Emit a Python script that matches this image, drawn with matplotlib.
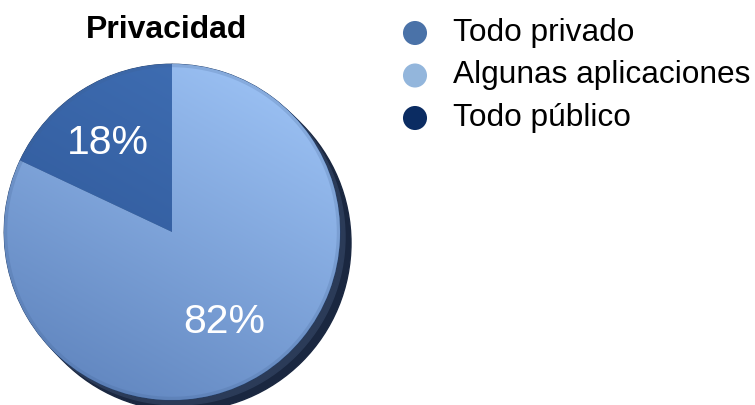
import numpy as np
import matplotlib
matplotlib.use("Agg")
import matplotlib.pyplot as plt
from matplotlib.patches import Circle

plt.rcParams['font.family'] = ['Liberation Sans', 'DejaVu Sans']

title = "Privacidad"
categories = ["Todo privado", "Algunas aplicaciones", "Todo público"]
values = [18, 82, 0]
legend_colors = ["#4a72a8", "#93b6dc", "#0b2c62"]

# gradient ends for the two visible slices (top-right, bottom-left)
grad = {0: ("#4272b8", "#2a5190"), 1: ("#a2c8fa", "#5a7fb9")}

W, H = 755, 405
fig = plt.figure(figsize=(W / 100, H / 100), dpi=100)
ax = fig.add_axes([0, 0, 1, 1])

cx, cy, r = 172, H - 232, 168

# shadow behind the pie, falling to the lower right
ax.add_patch(Circle((cx + 11, cy - 11), r, color="#1a2740", zorder=1))
ax.add_patch(Circle((cx + 5, cy - 5), r, color="#2b3b58", zorder=1.5))

wedges, _ = ax.pie(values, colors=legend_colors, startangle=90, counterclock=True,
                   center=(cx, cy), radius=r, frame=True,
                   wedgeprops=dict(linewidth=0.6, edgecolor="#22406e"))

# diagonal gradient, lighter to the upper right
n = 240
u = np.linspace(0, 1, n)
xx, yy = np.meshgrid(u, u)
t = np.clip((xx * 0.45 + yy * 0.8) / 1.25, 0, 1)[..., None]
for i, wd in enumerate(wedges):
    wd.set_zorder(2)
    if i in grad:
        c0 = np.array(matplotlib.colors.to_rgb(grad[i][0]))
        c1 = np.array(matplotlib.colors.to_rgb(grad[i][1]))
        img = c0 * (1 - t) + c1 * t
        img = img[:, ::-1]
        im = ax.imshow(img, extent=(cx - r, cx + r, cy - r, cy + r), origin="upper",
                       aspect="auto", zorder=3, interpolation="bilinear")
        im.set_clip_path(wd)

# soft rim
ax.add_patch(Circle((cx, cy), r - 1.5, fill=False, lw=2.5, ec="#3f5f8f", alpha=0.2, zorder=4))

ax.text(108, H - 143, f"{values[0]}%", color="white", fontsize=29.5,
        ha="center", va="center", zorder=5)
ax.text(224, H - 322, f"{values[1]}%", color="white", fontsize=29.5,
        ha="center", va="center", zorder=5)

ax.text(166, H - 30, title, fontsize=23, fontweight="bold", ha="center", va="center")

for k, (name, col) in enumerate(zip(categories, legend_colors)):
    y = H - (33 + 42.5 * k)
    ax.scatter([415], [y], s=300, color=col, zorder=5, edgecolors="none")
    ax.text(453, y, name, fontsize=22.8, ha="left", va="center")

ax.set_xlim(0, W)
ax.set_ylim(0, H)
ax.set_aspect("auto")
ax.axis("off")

fig.savefig("out.png", dpi=100)
